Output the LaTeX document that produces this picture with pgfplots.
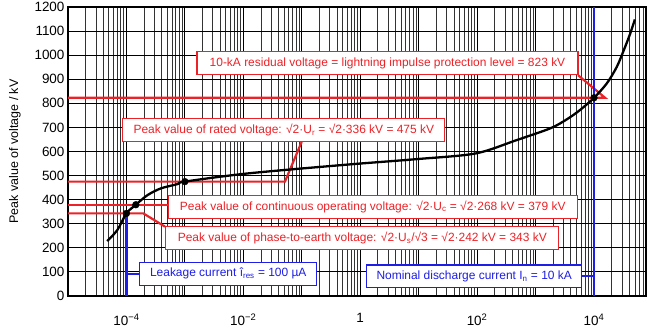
\documentclass[border=0pt]{standalone}
\usepackage{fontspec}
\setmainfont{Liberation Sans}
\usepackage{pgfplots}
\pgfplotsset{compat=1.18}
\definecolor{myred}{RGB}{235,35,40}
\definecolor{myblue}{RGB}{30,30,230}
\begin{document}
\begin{tikzpicture}
\begin{axis}[
  scale only axis, width=578bp, height=289bp,
  xmode=log, xmin=1e-5, xmax=7.76e4, ymin=0, ymax=1200,
  xtick={1e-5,1e-4,1e-3,1e-2,1e-1,1,1e1,1e2,1e3,1e4},
  xticklabels={,10\textsuperscript{−4},,10\textsuperscript{−2},,1,,10\textsuperscript{2},,10\textsuperscript{4}},
  minor xtick={2e-5,3e-5,4e-5,5e-5,6e-5,7e-5,8e-5,9e-5,
    2e-4,3e-4,4e-4,5e-4,6e-4,7e-4,8e-4,9e-4,
    2e-3,3e-3,4e-3,5e-3,6e-3,7e-3,8e-3,9e-3,
    2e-2,3e-2,4e-2,5e-2,6e-2,7e-2,8e-2,9e-2,
    2e-1,3e-1,4e-1,5e-1,6e-1,7e-1,8e-1,9e-1,
    2,3,4,5,6,7,8,9,20,30,40,50,60,70,80,90,
    200,300,400,500,600,700,800,900,
    2000,3000,4000,5000,6000,7000,8000,9000,
    2e4,3e4,4e4,5e4,6e4,7e4},
  ytick={0,100,...,1200},
  grid=both,
  major grid style={black, line width=0.9bp},
  minor grid style={black!80, line width=0.65bp},
  major tick length=0pt, minor tick length=0pt,
  axis line style={black, line width=1.4bp},
  ticklabel style={font=\fontsize{13.5}{15}\selectfont},
  xticklabel style={yshift=-14bp},
  /pgf/number format/assume math mode=true,
  /pgf/number format/1000 sep={},
  ylabel={Peak value of voltage / kV},
  ylabel style={font=\fontsize{12.5}{14}\selectfont, yshift=7bp},
]
% red reference lines
\addplot[myred, line width=2.2bp] coordinates {(1e-5,823) (1.545e4,823) (5330,917)};
\addplot[myred, line width=2.2bp] coordinates {(1e-5,475) (0.0516,475) (0.0998,640.7)};
\addplot[myred, line width=2.2bp] coordinates {(1e-5,379) (5.2e-4,379)};
\addplot[myred, line width=2.2bp] coordinates {(1e-5,343) (1.95e-4,343) (4.57e-4,288)};
% blue lines
\addplot[myblue, line width=2.7bp] coordinates {(1e-4,343) (1e-4,0)};
\addplot[myblue, line width=2.2bp] coordinates {(1e-4,91.3) (1.71e-4,91.3)};
\addplot[myblue, line width=2.7bp] coordinates {(1e4,0) (1e4,1200)};
\addplot[myblue, line width=2.2bp] coordinates {(6170,84.3) (1e4,84.3)};
% characteristic
\addplot[black, line width=2.3bp, smooth, tension=0.5] coordinates {
(4.7e-5,228) (7.0e-5,274) (1e-4,343) (1.45e-4,379) (2.3e-4,419) (3.9e-4,447)
(7.6e-4,465) (1e-3,475) (1.2e-2,509) (0.63,546) (10,569) (95,592) (470,647)
(1780,696) (3400,733) (5750,772) (1e4,823) (1.66e4,883) (2.45e4,951)
(3.24e4,1021) (4.17e4,1090) (5.0e4,1148)};
\addplot[only marks, mark=*, mark size=3.4bp, black] coordinates {(1e-4,343) (1.45e-4,379) (1e-3,475) (1e4,823)};
% boxes
\tikzset{rbox/.style={draw=myred, fill=white, line width=1.1bp, text=myred, inner xsep=2bp, inner ysep=0pt,
   minimum height=23bp, font=\fontsize{12}{14}\selectfont},
  bbox/.style={draw=myblue, fill=white, line width=1.1bp, text=myblue, inner xsep=2bp, inner ysep=0pt,
   minimum height=22.5bp, font=\fontsize{12}{14}\selectfont}}
\node[rbox, minimum width=381bp] at (rel axis cs:0.5528,0.8052) {10-kA residual voltage = lightning impulse protection level = 823 kV};
\node[rbox, minimum width=322bp] at (rel axis cs:0.3734,0.5744) {Peak value of rated voltage: √2·U\textsubscript{r} = √2·336 kV = 475 kV};
\node[rbox, minimum width=408.7bp] at (rel axis cs:0.5272,0.3090) {Peak value of continuous operating voltage: √2·U\textsubscript{c} = √2·268 kV = 379 kV};
\node[rbox, minimum width=393bp] at (rel axis cs:0.5092,0.2007) {Peak value of phase-to-earth voltage: √2·U\textsubscript{s}/√3 = √2·242 kV = 343 kV};
\node[bbox, minimum width=176.7bp] at (rel axis cs:0.2773,0.0768) {Leakage current î\textsubscript{res} = 100 µA};
\node[bbox, minimum width=215bp] at (rel axis cs:0.7028,0.0682) {Nominal discharge current I\textsubscript{n} = 10 kA};
\coordinate (bbsw) at (rel axis cs:-0.1176,-0.1211);
\coordinate (bbne) at (rel axis cs:1.00346,1.0242);
\end{axis}
\pgfresetboundingbox
\path[use as bounding box] (bbsw) rectangle (bbne);
\end{tikzpicture}
\end{document}
